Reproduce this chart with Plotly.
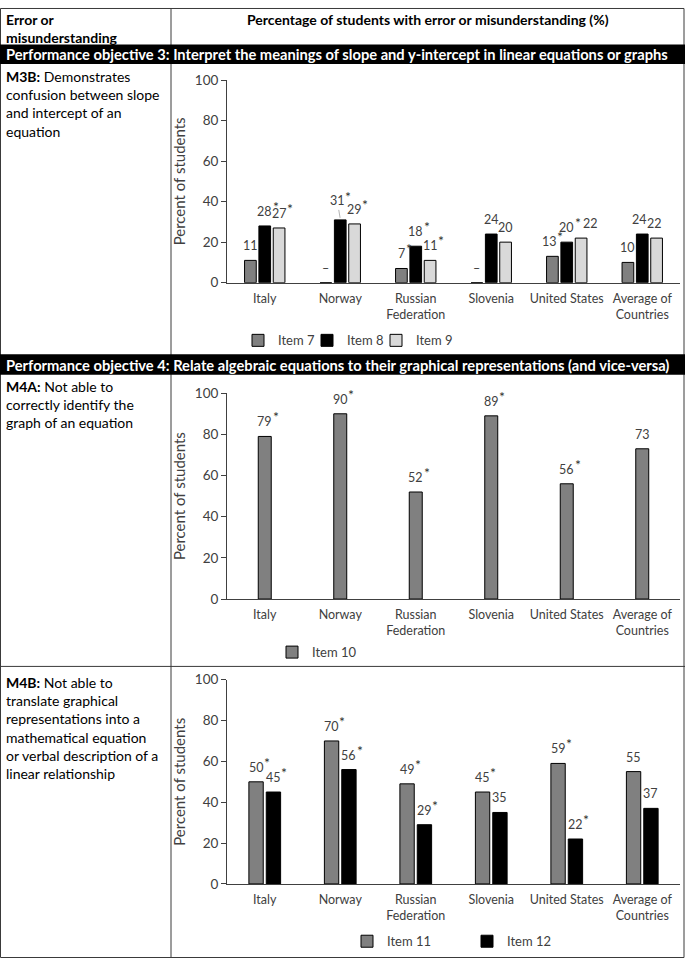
import plotly.graph_objects as go

W, H = 685, 966
FONT = "Lato, Carlito, Calibri, 'Liberation Sans', sans-serif"

# ---------------- data ----------------
categories = ["Italy", "Norway", "Russian<br>Federation", "Slovenia",
              "United States", "Average of<br>Countries"]

# M3B: items 7, 8, 9 (None = not reported, shown as a dash)
item7 = [11, None, 7, None, 13, 10]
item7_sig = [False, False, True, False, True, False]
item8 = [28, 31, 18, 24, 20, 24]
item8_sig = [True, True, True, False, True, False]
item9 = [27, 29, 11, 20, 22, 22]
item9_sig = [True, True, True, False, False, False]

# M4A: item 10
item10 = [79, 90, 52, 89, 56, 73]
item10_sig = [True, True, True, True, True, False]

# M4B: items 11, 12
item11 = [50, 70, 49, 45, 59, 55]
item11_sig = [True, True, True, True, True, False]
item12 = [45, 56, 29, 35, 22, 37]
item12_sig = [True, True, True, False, True, False]

y_ticks = [0, 20, 40, 60, 80, 100]

# ---------------- helpers ----------------
def PX(x):
    return x / W


def PY(y):
    return 1 - y / H


def heights(vals):
    return [0 if v is None else v for v in vals]


GRAY = "#808080"
BLACK = "#000000"
LIGHT = "#d9d9d9"
TXT = "#404040"
LBL = 12.5            # data-label font size
CW = (680 - 227) / 6  # category width in px

fig = go.Figure()
annotations = []

# label nudges (style only): (trace name, category index) -> (dx, lift, leader)
nudges = {
    ("Item 8", 1): (-3, 18, True),
    ("Item 7", 4): (-3, 0, False),
    ("Item 9", 4): (9, 0, False),
    ("Item 8", 5): (-3, 0, False),
    ("Item 9", 5): (-2, 0, False),
}


def add_bar(vals, sig, name, color, xa, ya, width, center, legend):
    fig.add_trace(go.Bar(
        x=categories, y=heights(vals), name=name,
        xaxis=xa, yaxis=ya, width=width, offset=center - width / 2,
        marker=dict(color=color, line=dict(color="#000000", width=1)),
        legend=legend, hoverinfo="skip",
    ))
    xs = center * CW
    for i, (c, v, s) in enumerate(zip(categories, heights(vals), sig)):
        raw = vals[i]
        txt = "\u2013" if raw is None else str(raw)
        dx, lift, leader = nudges.get((name, i), (0, 0, False))
        base = dict(x=c, y=v, xref=xa, yref=ya, showarrow=False,
                    font=dict(family=FONT, size=LBL, color=TXT))
        if leader:
            annotations.append(dict(base, text=txt, xshift=xs, yshift=1,
                                    showarrow=True, arrowhead=0,
                                    arrowwidth=0.8, arrowcolor="#a0a0a0",
                                    ax=dx, ay=-lift, standoff=1))
            star_y = lift - 9 + 4
        else:
            annotations.append(dict(base, text=txt, xanchor="center",
                                    yanchor="bottom", xshift=xs + dx,
                                    yshift=5))
            star_y = 9
        if s and raw is not None:
            hw = len(txt) * 0.58 * LBL / 2
            annotations.append(dict(base, text="*", xanchor="left",
                                    yanchor="bottom",
                                    xshift=xs + dx + hw - 1.5,
                                    yshift=star_y,
                                    font=dict(family=FONT, size=14,
                                              color="#303030")))


# Plot 1 (M3B)
bw1 = 0.155
add_bar(item7, item7_sig, "Item 7", GRAY, "x", "y", bw1, -0.19, "legend")
add_bar(item8, item8_sig, "Item 8", BLACK, "x", "y", bw1, 0.0, "legend")
add_bar(item9, item9_sig, "Item 9", LIGHT, "x", "y", bw1, 0.19, "legend")
# invisible spacer so the last legend entry is not clipped
fig.add_trace(go.Bar(x=categories[:1], y=[None], name=" ", xaxis="x",
                     yaxis="y", legend="legend", hoverinfo="skip",
                     marker=dict(color="rgba(0,0,0,0)",
                                 line=dict(width=0))))
# Plot 2 (M4A)
bw2 = 0.172
add_bar(item10, item10_sig, "Item 10", GRAY, "x2", "y2", bw2, 0.0, "legend2")
# Plot 3 (M4B)
bw3 = 0.19
add_bar(item11, item11_sig, "Item 11", GRAY, "x3", "y3", bw3, -0.115, "legend3")
add_bar(item12, item12_sig, "Item 12", BLACK, "x3", "y3", bw3, 0.115, "legend3")

xdom = [PX(227), PX(680)]
ydoms = [[PY(279.3), PY(73.3)], [PY(601), PY(391.7)], [PY(890.7), PY(683)]]

layout = dict(
    width=W, height=H,
    margin=dict(l=0, r=0, t=0, b=0),
    paper_bgcolor="white", plot_bgcolor="white",
    barmode="overlay",
    font=dict(family=FONT, size=13, color=TXT),
    showlegend=True,
)

for i, yd in enumerate(ydoms, start=1):
    sx = "" if i == 1 else str(i)
    layout["xaxis" + sx] = dict(
        domain=xdom, anchor="y" + sx, type="category", range=[-0.5, 5.5],
        showline=True, linecolor=TXT, linewidth=1, ticks="",
        tickfont=dict(family=FONT, size=12.5, color=TXT),
        ticklabelstandoff=4, fixedrange=True, showgrid=False,
    )
    layout["yaxis" + sx] = dict(
        domain=yd, anchor="x" + sx, range=[0, 100], tickvals=y_ticks,
        showline=True, linecolor=TXT, linewidth=1, ticks="outside",
        ticklen=5, tickcolor=TXT, showgrid=False, zeroline=False,
        tickfont=dict(family=FONT, size=13.5, color=TXT),
        title=dict(text="Percent of students", standoff=5,
                   font=dict(family=FONT, size=15, color=TXT)),
        fixedrange=True,
    )

legend_common = dict(orientation="h", xanchor="left", yanchor="middle",
                     bgcolor="rgba(0,0,0,0)", itemwidth=30,
                     font=dict(family=FONT, size=13, color=TXT),
                     entrywidthmode="pixels", itemclick=False,
                     itemdoubleclick=False, tracegroupgap=0)
layout["legend"] = dict(legend_common, x=PX(238), y=PY(338), entrywidth=24)
layout["legend2"] = dict(legend_common, x=PX(272), y=PY(655))
layout["legend3"] = dict(legend_common, x=PX(347), y=PY(949), entrywidth=75)

# ---------------- table frame ----------------
LINE = "#3a3a3a"
shapes = []


def hline(y):
    shapes.append(dict(type="line", xref="paper", yref="paper",
                       x0=0, x1=1, y0=PY(y), y1=PY(y),
                       line=dict(color=LINE, width=1)))


def band(y0, y1):
    shapes.append(dict(type="rect", xref="paper", yref="paper",
                       x0=0, x1=1, y0=PY(y1), y1=PY(y0),
                       fillcolor="black", line=dict(width=0)))


shapes.append(dict(type="rect", xref="paper", yref="paper",
                   x0=PX(0.5), x1=PX(684), y0=PY(965.5), y1=PY(0.5),
                   line=dict(color=LINE, width=1)))
shapes.append(dict(type="line", xref="paper", yref="paper",
                   x0=PX(171), x1=PX(171), y0=0, y1=1,
                   line=dict(color=LINE, width=1)))
hline(669.5)
band(37, 57)
band(352, 373)


def text(x, y, s, size=14, color="black", xanchor="left", yanchor="middle"):
    annotations.append(dict(xref="paper", yref="paper", x=PX(x), y=PY(y),
                            text=s, showarrow=False, xanchor=xanchor,
                            yanchor=yanchor, align="left",
                            font=dict(family=FONT, size=size, color=color)))


text(4, 1, "<b>Error or<br>misunderstanding</b>", yanchor="top")
text(428, 12, "<b>Percentage of students with error or misunderstanding (%)</b>",
     xanchor="center")
text(4, 47, "<b>Performance objective 3: Interpret the meanings of slope and "
     "y-intercept in linear equations or graphs</b>", size=14.7, color="white")
text(4, 363, "<b>Performance objective 4: Relate algebraic equations to their "
     "graphical representations (and vice-versa)</b>", size=14.7, color="white")
text(4, 59, "<b>M3B:</b> Demonstrates<br>confusion between slope<br>"
     "and intercept of an<br>equation", yanchor="top")
text(4, 374, "<b>M4A:</b> Not able to<br>correctly identify the<br>"
     "graph of an equation", yanchor="top")
text(4, 675, "<b>M4B:</b> Not able to<br>translate graphical<br>"
     "representations into a<br>mathematical equation<br>"
     "or verbal description of a<br>linear relationship", yanchor="top")

layout["shapes"] = shapes
layout["annotations"] = annotations
fig.update_layout(**layout)

fig.write_html(
    "out.html",
    config={"displayModeBar": False},
    post_script="document.body.style.margin='0';"
                "document.documentElement.style.overflow='hidden';",
)
